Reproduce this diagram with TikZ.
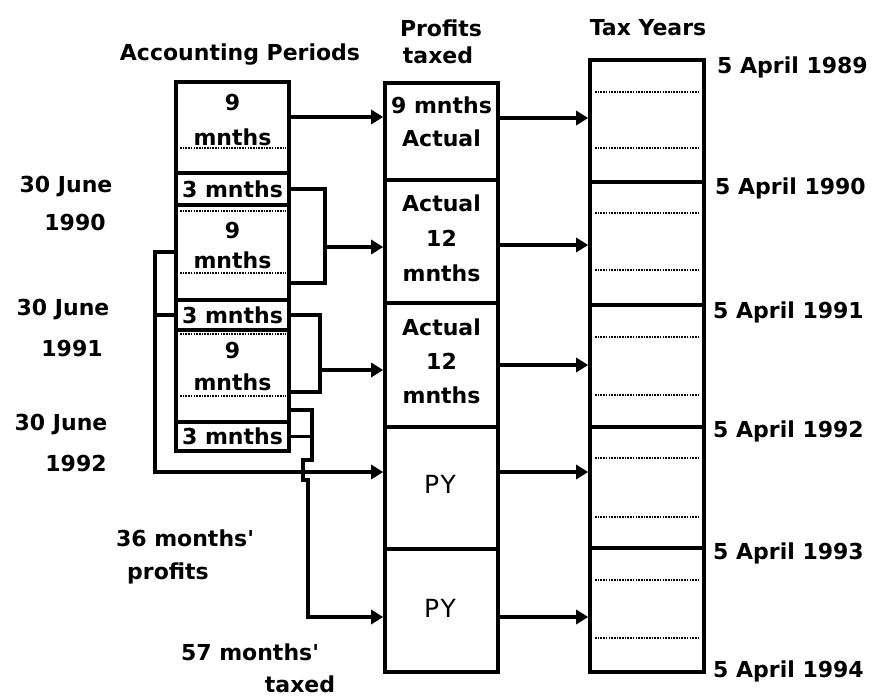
\documentclass[tikz,border=0pt]{standalone}
\usepackage{fontspec}
\setmainfont{DejaVu Sans}
\usetikzlibrary{arrows.meta}
\begin{document}
\begin{tikzpicture}[x=1pt,y=-1pt,
  box/.style={draw,line width=3.6pt,rectangle,inner sep=0pt},
  lbl/.style={font=\fontsize{22}{26}\selectfont\bfseries,inner sep=0pt},
  pyl/.style={font=\fontsize{25}{26}\selectfont,inner sep=0pt},
  con/.style={line width=3.6pt,line join=miter},
  arr/.style={con,-{Triangle[length=12pt,width=14pt]}},
  dots/.style={line width=1.7pt,dash pattern=on 1.6pt off 1.1pt}
]
\useasboundingbox (0,0) rectangle (872,697);

% headers
\node[lbl] (hap) at (240,55) {Accounting Periods};
\node[lbl] (hpt1) at (441,28) {Profits};
\node[lbl] (hpt2) at (438,55) {taxed};
\node[lbl] (hty) at (648,28) {Tax Years};

% accounting periods column
\node[box,minimum width=113pt,minimum height=91pt] (ap1) at (232.5,127.5) {};
\node[box,minimum width=113pt,minimum height=32pt,lbl] (ap2) at (232.5,189) {3 mnths};
\node[box,minimum width=113pt,minimum height=95pt] (ap3) at (232.5,252.5) {};
\node[box,minimum width=113pt,minimum height=30pt,lbl] (ap4) at (232.5,315) {3 mnths};
\node[box,minimum width=113pt,minimum height=92pt] (ap5) at (232.5,376) {};
\node[box,minimum width=113pt,minimum height=29pt,lbl] (ap6) at (232.5,436.5) {3 mnths};
\node[lbl,align=center,font=\fontsize{22}{35}\selectfont\bfseries] (ap1t) at (232.5,120) {9\\mnths};
\node[lbl,align=center,font=\fontsize{22}{30}\selectfont\bfseries] (ap3t) at (232.5,245) {9\\mnths};
\node[lbl,align=center,font=\fontsize{22}{32}\selectfont\bfseries] (ap5t) at (232.5,366) {9\\mnths};
\foreach \yy in {148,211,273,334,396} \draw[dots] (180,\yy) -- (286,\yy);

% profits taxed column
\node[box,minimum width=113pt,minimum height=97pt] (pt1) at (441.5,131.5) {};
\node[box,minimum width=113pt,minimum height=123pt] (pt2) at (441.5,241.5) {};
\node[box,minimum width=113pt,minimum height=124pt] (pt3) at (441.5,365) {};
\node[box,minimum width=113pt,minimum height=122pt] (py1) at (441.5,488) {};
\node[box,minimum width=113pt,minimum height=123pt] (py2) at (441.5,610.5) {};
\node[lbl,align=center,font=\fontsize{22}{33}\selectfont\bfseries] (pt1t) at (441.5,122) {9 mnths\\Actual};
\node[lbl,align=center,font=\fontsize{22}{35}\selectfont\bfseries] (pt2t) at (441.5,238) {Actual\\12\\mnths};
\node[lbl,align=center,font=\fontsize{22}{34}\selectfont\bfseries] (pt3t) at (441.5,361) {Actual\\12\\mnths};
\node[pyl] (py1t) at (440,484) {P\kern1.5ptY};
\node[pyl] (py2t) at (440,608) {P\kern1.5ptY};

% tax years column
\node[box,minimum width=114pt,minimum height=612pt] (ty) at (647,366) {};
\foreach \yy in {182,305,427,548} \draw[line width=3.6pt] (590,\yy) -- (704,\yy);
\foreach \yy in {92,148,213,270,337,395,458,517,580,638} \draw[dots] (595,\yy) -- (700,\yy);

% tax year labels
\node[lbl,anchor=west] (d89) at (717,67) {5 April 1989};
\node[lbl,anchor=west] (d90) at (715,188) {5 April 1990};
\node[lbl,anchor=west] (d91) at (713,312) {5 April 1991};
\node[lbl,anchor=west] (d92) at (713,431) {5 April 1992};
\node[lbl,anchor=west] (d93) at (713,553) {5 April 1993};
\node[lbl,anchor=west] (d94) at (713,671) {5 April 1994};

% left labels
\node[lbl] (j90a) at (66,187) {30 June};
\node[lbl] (j90b) at (75,222) {1990};
\node[lbl] (j91a) at (63,310) {30 June};
\node[lbl] (j91b) at (72,348) {1991};
\node[lbl] (j92a) at (61,425) {30 June};
\node[lbl] (j92b) at (76,463) {1992};
\node[lbl] (m36a) at (185,538) {36 months\textquotesingle};
\node[lbl] (m36b) at (168,573) {profits};
\node[lbl] (m57a) at (250,652) {57 months\textquotesingle};
\node[lbl] (m57b) at (300,684) {taxed};

% junction coordinates
\coordinate (j1) at (325,247);
\coordinate (j2) at (320,370);
\coordinate (j3) at (155,472);
\coordinate (j4) at (308,617);
\coordinate (j5) at (312,410);

% connectors
\draw[arr] (ap1.east |- 0,117) -- (pt1.west |- 0,117);
\draw[con] (ap2.east) -| (j1 |- 0,283) -- (ap3.east |- 0,283);
\draw[arr] (j1) -- (pt2.west |- j1);
\draw[con] (ap4.east) -| (j2 |- 0,392) -- (ap5.east |- 0,392);
\draw[arr] (j2) -- (pt3.west |- j2);
\draw[arr] (ap3.west |- 0,252) -| (j3) -- (py1.west |- j3);
\draw[con] (ap4.west) -- (ap4.west -| j3);
\draw[arr] (ap5.east |- j5) -- (j5) -- ++(0,50) -- ++(-9,0) -- ++(0,20) -- ++(5,0) -- (j4) -- (py2.west |- j4);
\draw[con] (ap6.east) -- (ap6.east -| j5);

\draw[arr] (pt1.east |- 0,118) -- (ty.west |- 0,118);
\draw[arr] (pt2.east |- 0,245) -- (ty.west |- 0,245);
\draw[arr] (pt3.east |- 0,365) -- (ty.west |- 0,365);
\draw[arr] (py1.east |- 0,472) -- (ty.west |- 0,472);
\draw[arr] (py2.east |- j4) -- (ty.west |- j4);
\end{tikzpicture}
\end{document}
